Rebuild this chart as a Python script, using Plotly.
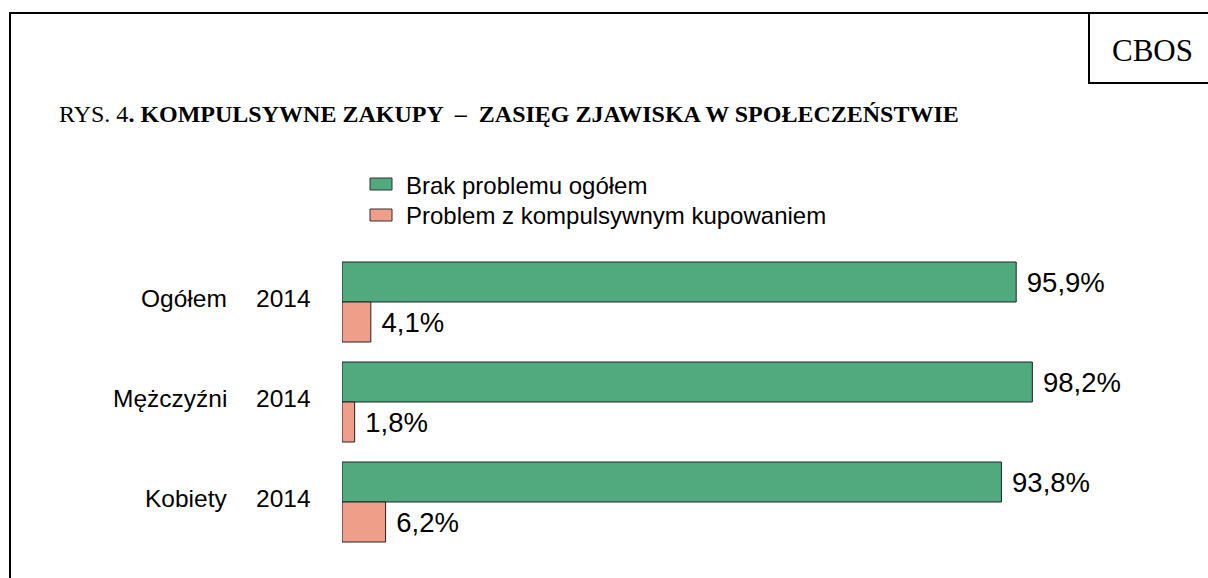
import plotly.graph_objects as go

# ---- data ----
categories = ["Ogółem", "Mężczyźni", "Kobiety"]
years = ["2014", "2014", "2014"]
brak_problemu = [95.9, 98.2, 93.8]
problem = [4.1, 1.8, 6.2]
series_names = ["Brak problemu ogółem", "Problem z kompulsywnym kupowaniem"]
title_plain = "RYS. 4"
title_bold = ". KOMPULSYWNE ZAKUPY \u00a0– \u00a0ZASIĘG ZJAWISKA W SPOŁECZEŃSTWIE"
source_label = "CBOS"

def fmt(v):
    return "\u00a0" + f"{v:.1f}".replace(".", ",") + "%"

W, H = 1208, 578
L, R, T, B = 342, 163, 252, 26
PW, PH = W - L - R, H - T - B

def px(x):
    return (x - L) / PW

def py(y):
    return 1 - (y - T) / PH

GREEN = "#50AA7E"
SALMON = "#EF9F89"
COLORS = [GREEN, SALMON]
SANS = "Liberation Sans, Arial, sans-serif"
SERIF = "Liberation Serif, Times New Roman, serif"

fig = go.Figure()
for name, vals, col in zip(series_names, [brak_problemu, problem], COLORS):
    fig.add_trace(go.Bar(
        y=categories, x=vals, orientation="h", name=name,
        marker=dict(color=col, line=dict(color="#222222", width=1)),
        text=[fmt(v) for v in vals], textposition="outside",
        textfont=dict(family=SANS, size=27.5, color="#000000"),
        constraintext="none", cliponaxis=False, showlegend=False,
    ))

annotations = []
for c, yr in zip(categories, years):
    annotations.append(dict(x=px(229), y=c, xref="paper", yref="y", text=c,
                            xanchor="right", yanchor="middle", showarrow=False, yshift=4,
                            font=dict(family=SANS, size=24.5, color="#000000")))
    annotations.append(dict(x=px(313), y=c, xref="paper", yref="y", text=yr,
                            xanchor="right", yanchor="middle", showarrow=False, yshift=4,
                            font=dict(family=SANS, size=24.5, color="#000000")))

annotations.append(dict(x=px(57), y=py(114), xref="paper", yref="paper",
                        text=title_plain + "<b>" + title_bold + "</b>",
                        xanchor="left", yanchor="middle", showarrow=False,
                        font=dict(family=SERIF, size=24, color="#000000")))
annotations.append(dict(x=px(1152), y=py(50), xref="paper", yref="paper",
                        text=source_label, xanchor="center", yanchor="middle", showarrow=False,
                        font=dict(family=SERIF, size=31, color="#000000")))

shapes = [
    dict(type="rect", xref="paper", yref="paper", x0=px(10), y0=py(13), x1=px(1230), y1=py(600),
         line=dict(color="#000000", width=2), fillcolor="rgba(0,0,0,0)", layer="below"),
    dict(type="rect", xref="paper", yref="paper", x0=px(1089), y0=py(13), x1=px(1230), y1=py(83),
         line=dict(color="#000000", width=2), fillcolor="rgba(0,0,0,0)", layer="below"),
]

# legend (drawn as key boxes + labels, matching the reference's wide key rectangles)
legend_centers = [184, 215]
for name, col, cy in zip(series_names, COLORS, legend_centers):
    shapes.append(dict(type="rect", xref="paper", yref="paper",
                       x0=px(370), x1=px(392), y0=py(cy - 6), y1=py(cy + 6),
                       line=dict(color="#333333", width=1), fillcolor=col))
    annotations.append(dict(x=px(404), y=py(cy + 1), xref="paper", yref="paper", text=name,
                            xanchor="left", yanchor="middle", showarrow=False,
                            font=dict(family=SANS, size=24, color="#000000")))

fig.update_layout(
    width=W, height=H,
    margin=dict(l=L, r=R, t=T, b=B, pad=0),
    paper_bgcolor="white", plot_bgcolor="white",
    barmode="group", bargap=0.2, bargroupgap=0,
    showlegend=False,
    xaxis=dict(range=[0, 100], visible=False, fixedrange=True),
    yaxis=dict(autorange="reversed", showticklabels=False, showgrid=False,
               zeroline=False, showline=False, ticks="", fixedrange=True),
    annotations=annotations, shapes=shapes,
)

fig.write_html("out.html", config={"displayModeBar": False})
